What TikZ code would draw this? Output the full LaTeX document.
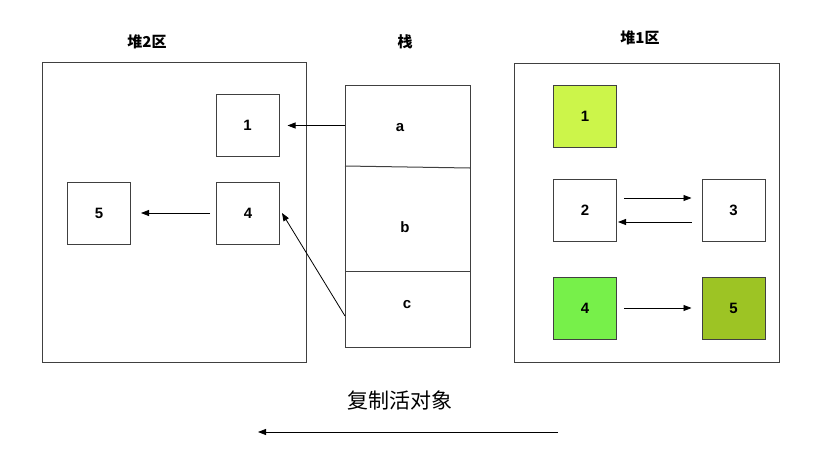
\documentclass[tikz,border=0pt]{standalone}
\usepackage{fontspec}
\setmainfont{Liberation Sans}
\newfontfamily\cjk{Noto Sans CJK SC}
\usetikzlibrary{arrows.meta}
\begin{document}
\begin{tikzpicture}[x=1pt,y=-1pt,
  frame/.style={draw=black!75,line width=1pt},
  obj/.style={draw=black!75,line width=1pt,minimum width=63pt,minimum height=62pt,font=\bfseries\fontsize{15}{17}\selectfont},
  lbl/.style={font=\bfseries\fontsize{15}{17}\selectfont},
  arr/.style={-{Triangle[length=8pt,width=6pt]},line width=0.8pt}]
\useasboundingbox (0,0) rectangle (838,453);
\fill[white] (0,0) rectangle (838,453);
% left heap
\draw[frame] (42,62) rectangle (306,362);
\node[lbl] (h2) at (147,42) {\cjk\bfseries 堆2区};
\node[obj] (L1) at (247.5,125.5) {1};
\node[obj] (L4) at (248,213) {4};
\node[obj] (L5) at (99,213) {5};
% stack
\draw[frame] (345,85) rectangle (470,347);
\draw[frame] (345,166) -- (470,168);
\draw[frame] (345,271) -- (470,271);
\node[lbl] (st) at (405,42) {\cjk\bfseries 栈};
\node[lbl] (sa) at (400,128) {a};
\node[lbl] (sb) at (405,227) {b};
\node[lbl] (sc) at (407,305) {c};
\coordinate (pa) at (345,125.5);
\coordinate (pc) at (345,316);
\draw[arr] (pa) -- ([xshift=8pt]L1.east);
\draw[arr] (pc) -- ([xshift=2pt]L4.east);
\draw[arr] ([xshift=-6pt]L4.west) -- ([xshift=10pt]L5.east);
% right heap
\draw[frame] (514,63) rectangle (779,362);
\node[lbl] (h1) at (640,38) {\cjk\bfseries 堆1区};
\node[obj,fill={rgb,255:red,204;green,245;blue,74}] (R1) at (585,116) {1};
\node[obj] (R2) at (585,210) {2};
\node[obj] (R3) at (733.5,210) {3};
\node[obj,fill={rgb,255:red,119;green,240;blue,74}] (R4) at (585,308) {4};
\node[obj,fill={rgb,255:red,157;green,196;blue,36}] (R5) at (733.5,308) {5};
\draw[arr] ([xshift=7pt,yshift=12pt]R2.east) -- ([xshift=-10pt,yshift=12pt]R3.west);
\draw[arr] ([xshift=-10pt,yshift=-12pt]R3.west) -- ([xshift=1pt,yshift=-12pt]R2.east);
\draw[arr] ([xshift=7pt]R4.east) -- ([xshift=-10pt]R5.west);
% bottom
\node[font=\cjk\fontsize{21}{24}\selectfont] (cp) at (400,400) {复制活对象};
\coordinate (b1) at (558,432);
\coordinate (b2) at (258,432);
\draw[arr] (b1) -- (b2);
\end{tikzpicture}
\end{document}
